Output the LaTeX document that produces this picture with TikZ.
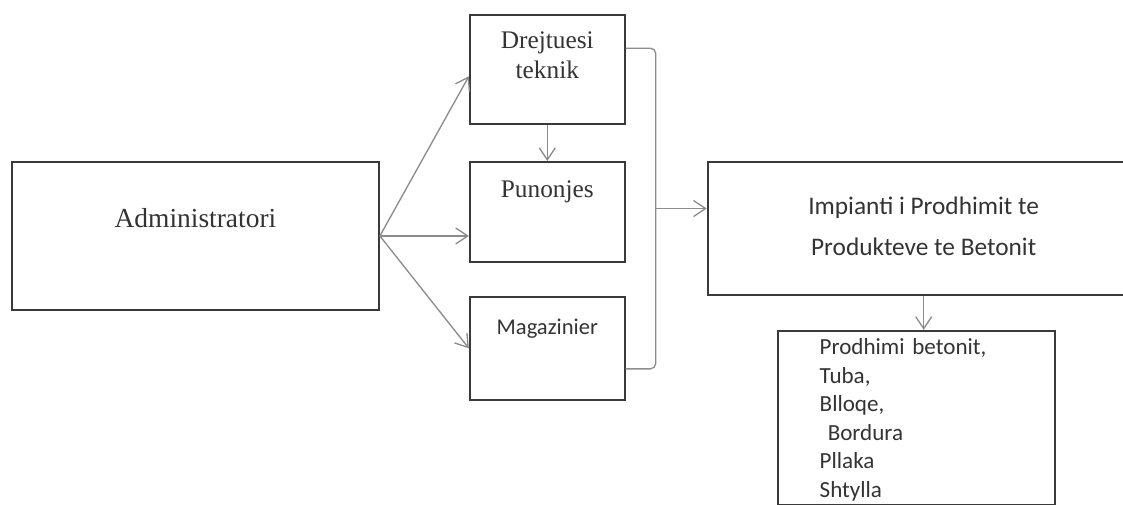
\documentclass[tikz,border=0pt]{standalone}
\usepackage{fontspec}
\setmainfont{Liberation Serif}
\newfontfamily\calibri{Carlito}
\usetikzlibrary{arrows.meta, positioning}
\usetikzlibrary{calc}

\definecolor{boxline}{HTML}{3A3A3A}
\definecolor{linkline}{HTML}{8C8C8C}
\definecolor{inktext}{HTML}{333333}

\begin{document}
\begin{tikzpicture}[
      x=0.75pt,
      y=-0.75pt,
      unit/.style={
          rectangle,
          draw=boxline,
          line width=1.4pt,
          inner sep=0pt,
          align=center,
          text=inktext
        },
      serif/.style={
          font=\fontsize{19}{22.5}\selectfont
        },
      sans/.style={
          font=\calibri\fontsize{17.3}{21.4}\selectfont
        },
      arrow/.style={
          -{Straight Barb[length=9pt, width=12pt]},
          draw=linkline,
          line width=1pt
        },
      link/.style={
          draw=linkline,
          line width=1pt
        }
    ]
    \path[use as bounding box, clip] (0,0) rectangle (1123,504);

    % Start
    \node[unit, serif, anchor=north west, minimum width=275.25pt, text height=49.5pt, text depth=61.5pt, font=\fontsize{20.6}{24}\selectfont] (admin) at (11,161) {Administratori};

    % Staff
    \node[unit, serif, right=66.75pt of admin.north east, anchor=north west, minimum width=116.25pt, text height=27pt, text depth=48pt] (pun) {Punonjes};
    \node[unit, serif, above=27pt of pun, minimum width=116.25pt, text height=47.25pt, text depth=34.5pt] (drej) {Drejtuesi\\teknik};
    \node[unit, sans, below=24.75pt of pun, minimum width=116.25pt, text height=28.5pt, text depth=48.75pt, font=\calibri\fontsize{16.9}{20}\selectfont] (mag) {Magazinier};

    % Plant
    \node[unit, sans, right=60.75pt of pun.north east, anchor=north west, minimum width=324pt, text height=70.5pt, text depth=29.25pt, font=\calibri\fontsize{19}{30.75}\selectfont] (imp) {Impianti i Prodhimit te\\Produkteve te Betonit};
    \node[unit, sans, below=25.5pt of imp, xshift=-5.6pt, text width=144.75pt, inner xsep=31.5pt, align=left, text height=18pt, text depth=112.5pt] (prod) {Prodhimi betonit,\\Tuba,\\Blloqe,\\\hspace*{0.35em}Bordura\\Pllaka\\Shtylla};

    % Arrows
    \draw[arrow] (admin.east) -- ([yshift=-5pt]drej.west);
    \draw[arrow] (admin.east) -- (admin.east -| pun.west);
    \draw[arrow] (admin.east) -- (mag.west);
    \draw[arrow] (drej) -- (pun);

    % Bracket
    \coordinate (brace_top) at ([yshift=16pt]drej.east);
    \coordinate (brace_bot) at ([yshift=-15.4pt]mag.east);
    \coordinate (brace_mid) at ($(brace_top)!0.5!(brace_bot) + (30,0)$);
    \draw[link, rounded corners=4pt] (brace_top) -- (brace_top -| brace_mid) -- (brace_bot -| brace_mid) -- (brace_bot);
    \draw[arrow] (brace_mid) -- (brace_mid -| imp.west);

    % Products
    \draw[arrow] (imp.south) -- (imp.south |- prod.north);
  \end{tikzpicture}
\end{document}
